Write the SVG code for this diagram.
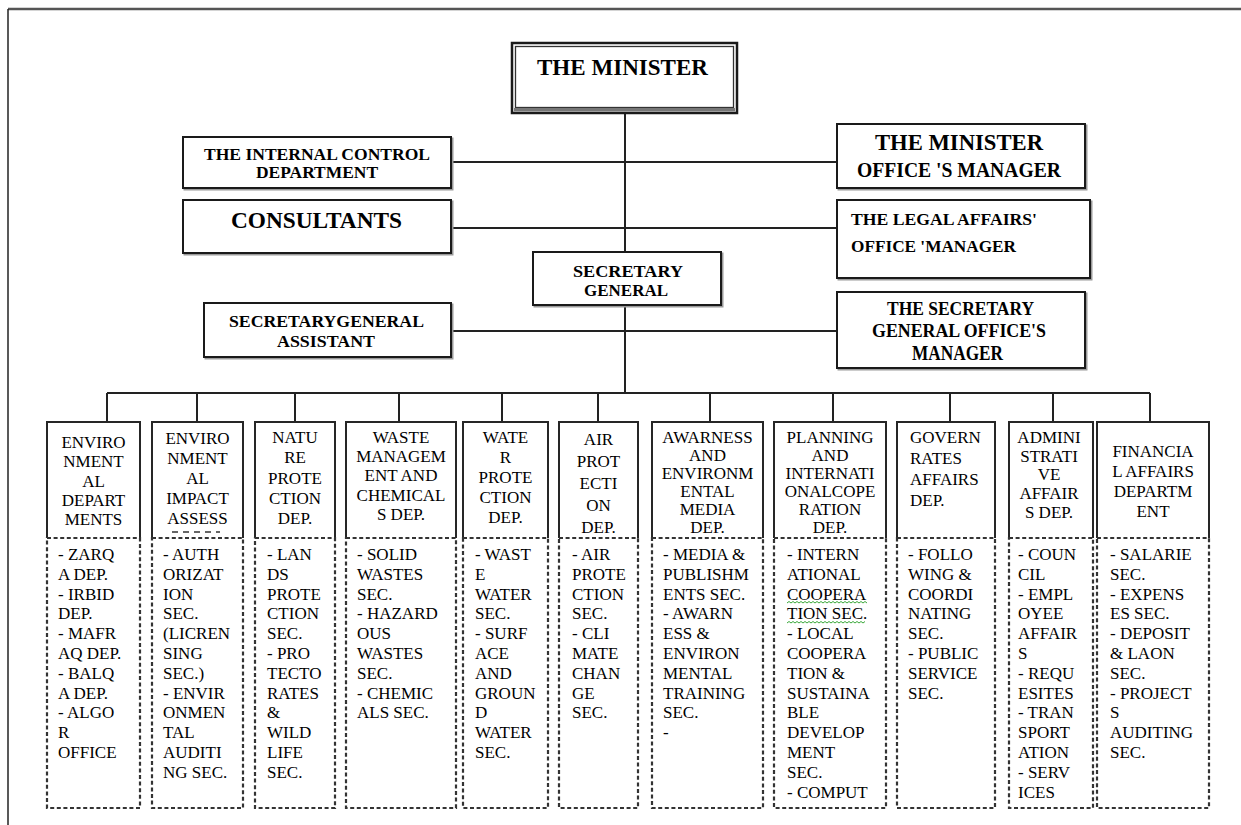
<svg xmlns="http://www.w3.org/2000/svg" width="1241" height="825" viewBox="0 0 1241 825">
<style>
.ln{stroke:#222;stroke-width:2;fill:none}
.box{fill:#fff;stroke:#1a1a1a;stroke-width:2}
.sh{fill:none;stroke:#9a9a9a;stroke-width:2}
.solid{fill:none;stroke:#262626;stroke-width:2}
.dash{fill:none;stroke:#333;stroke-width:2.2;stroke-dasharray:4 2.6}
.tb{font-family:"Liberation Serif","Times New Roman",serif;font-weight:bold;fill:#000}
.tc{font-family:"Liberation Serif","Times New Roman",serif;font-size:17px;fill:#000}
.hd{text-anchor:middle}
</style>
<rect x="0" y="0" width="1241" height="825" fill="#fff"/>
<g id="frame">
<line x1="8" y1="9" x2="1241" y2="9" stroke="#555" stroke-width="2.5"/>
<line x1="8" y1="9" x2="8" y2="825" stroke="#222" stroke-width="1.5"/>
</g>
<g id="connectors">
<line class="ln" x1="625" y1="113" x2="625" y2="393"/>
<line class="ln" x1="451" y1="162" x2="837" y2="162"/>
<line class="ln" x1="451" y1="228" x2="837" y2="228"/>
<line class="ln" x1="451" y1="331" x2="837" y2="331"/>
<line class="ln" x1="107" y1="393" x2="1150" y2="393"/>
<path class="ln" d="M107 393V422M197 393V422M295 393V422M399 393V422M502 393V422M598 393V422M710 393V422M833 393V422M950 393V422M1053 393V422M1150 393V422"/>
</g>
<g id="minister">
<rect x="512" y="43" width="225" height="70" fill="#fff" stroke="#1a1a1a" stroke-width="2.5"/>
<rect x="515.5" y="46.5" width="218" height="61" fill="none" stroke="#333" stroke-width="1.3"/>
<rect x="514" y="108" width="221" height="3.5" fill="#777"/>
<text class="tb" x="537" y="75" font-size="23" textLength="171" lengthAdjust="spacingAndGlyphs">THE MINISTER</text>
</g>
<g id="internal-control">
<rect class="sh" x="184.5" y="138.5" width="268" height="51"/>
<rect class="box" x="183" y="137" width="268" height="51"/>
<text class="tb" x="204" y="160" font-size="16" textLength="226" lengthAdjust="spacingAndGlyphs">THE INTERNAL CONTROL</text>
<text class="tb" x="256" y="178" font-size="16" textLength="122" lengthAdjust="spacingAndGlyphs">DEPARTMENT</text>
</g>
<g id="minister-office-manager">
<rect class="sh" x="838.5" y="125.5" width="248" height="64"/>
<rect class="box" x="837" y="124" width="248" height="64"/>
<text class="tb" x="875" y="150" font-size="22.5" textLength="168" lengthAdjust="spacingAndGlyphs">THE MINISTER</text>
<text class="tb" x="857" y="177" font-size="22" textLength="204" lengthAdjust="spacingAndGlyphs">OFFICE 'S MANAGER</text>
</g>
<g id="consultants">
<rect class="sh" x="184.5" y="201.5" width="268" height="53"/>
<rect class="box" x="183" y="200" width="268" height="53"/>
<text class="tb" x="231" y="228" font-size="23" textLength="171" lengthAdjust="spacingAndGlyphs">CONSULTANTS</text>
</g>
<g id="legal-affairs">
<rect class="sh" x="838.5" y="201.5" width="253" height="78"/>
<rect class="box" x="837" y="200" width="253" height="78"/>
<text class="tb" x="851" y="225" font-size="16" textLength="186" lengthAdjust="spacingAndGlyphs">THE LEGAL AFFAIRS'</text>
<text class="tb" x="851" y="252" font-size="16" textLength="165" lengthAdjust="spacingAndGlyphs">OFFICE 'MANAGER</text>
</g>
<g id="secretary-general">
<rect class="sh" x="534.5" y="253.5" width="188" height="53"/>
<rect class="box" x="533" y="252" width="188" height="53"/>
<text class="tb" x="573" y="277" font-size="16.5" textLength="110" lengthAdjust="spacingAndGlyphs">SECRETARY</text>
<text class="tb" x="584" y="296" font-size="16.5" textLength="84" lengthAdjust="spacingAndGlyphs">GENERAL</text>
</g>
<g id="sg-assistant">
<rect class="sh" x="205.5" y="304.5" width="247" height="54"/>
<rect class="box" x="204" y="303" width="247" height="54"/>
<text class="tb" x="229" y="327" font-size="17" textLength="195" lengthAdjust="spacingAndGlyphs">SECRETARYGENERAL</text>
<text class="tb" x="277" y="347" font-size="17" textLength="98" lengthAdjust="spacingAndGlyphs">ASSISTANT</text>
</g>
<g id="sg-office-manager">
<rect class="sh" x="838.5" y="293.5" width="248" height="76"/>
<rect class="box" x="837" y="292" width="248" height="76"/>
<text class="tb" x="887" y="315" font-size="19" textLength="147" lengthAdjust="spacingAndGlyphs">THE SECRETARY</text>
<text class="tb" x="872" y="337" font-size="19" textLength="174" lengthAdjust="spacingAndGlyphs">GENERAL OFFICE'S</text>
<text class="tb" x="912" y="360" font-size="20" textLength="91" lengthAdjust="spacingAndGlyphs">MANAGER</text>
</g>

<g id="col1">
<path class="solid" d="M47 538V422H140V538"/>
<rect class="dash" x="47" y="538" width="93" height="270"/>
<text class="tc hd" x="93.5" y="448">ENVIRO</text>
<text class="tc hd" x="93.5" y="467.3">NMENT</text>
<text class="tc hd" x="93.5" y="486.6">AL</text>
<text class="tc hd" x="93.5" y="505.9">DEPART</text>
<text class="tc hd" x="93.5" y="525.2">MENTS</text>
<text class="tc" x="58" y="560">- ZARQ</text>
<text class="tc" x="58" y="579.8">A DEP.</text>
<text class="tc" x="58" y="599.6">- IRBID</text>
<text class="tc" x="58" y="619.4">DEP.</text>
<text class="tc" x="58" y="639.2">- MAFR</text>
<text class="tc" x="58" y="659">AQ DEP.</text>
<text class="tc" x="58" y="678.8">- BALQ</text>
<text class="tc" x="58" y="698.6">A DEP.</text>
<text class="tc" x="58" y="718.4">- ALGO</text>
<text class="tc" x="58" y="738.2">R</text>
<text class="tc" x="58" y="758">OFFICE</text>
</g>
<g id="col2">
<path class="solid" d="M152 538V422H243V538"/>
<rect class="dash" x="152" y="538" width="91" height="270"/>
<line x1="172" y1="532" x2="220" y2="532" stroke="#333" stroke-width="1.5" stroke-dasharray="6 5"/>
<text class="tc hd" x="197.5" y="444">ENVIRO</text>
<text class="tc hd" x="197.5" y="464">NMENT</text>
<text class="tc hd" x="197.5" y="484">AL</text>
<text class="tc hd" x="197.5" y="504">IMPACT</text>
<text class="tc hd" x="197.5" y="524">ASSESS</text>
<text class="tc" x="163" y="560">- AUTH</text>
<text class="tc" x="163" y="579.8">ORIZAT</text>
<text class="tc" x="163" y="599.6">ION</text>
<text class="tc" x="163" y="619.4">SEC.</text>
<text class="tc" x="163" y="639.2">(LICREN</text>
<text class="tc" x="163" y="659">SING</text>
<text class="tc" x="163" y="678.8">SEC.)</text>
<text class="tc" x="163" y="698.6">- ENVIR</text>
<text class="tc" x="163" y="718.4">ONMEN</text>
<text class="tc" x="163" y="738.2">TAL</text>
<text class="tc" x="163" y="758">AUDITI</text>
<text class="tc" x="163" y="777.8">NG SEC.</text>
</g>
<g id="col3">
<path class="solid" d="M255 538V422H335V538"/>
<rect class="dash" x="255" y="538" width="80" height="270"/>
<text class="tc hd" x="295" y="443">NATU</text>
<text class="tc hd" x="295" y="463.3">RE</text>
<text class="tc hd" x="295" y="483.6">PROTE</text>
<text class="tc hd" x="295" y="503.9">CTION</text>
<text class="tc hd" x="295" y="524.2">DEP.</text>
<text class="tc" x="267" y="560">- LAN</text>
<text class="tc" x="267" y="579.8">DS</text>
<text class="tc" x="267" y="599.6">PROTE</text>
<text class="tc" x="267" y="619.4">CTION</text>
<text class="tc" x="267" y="639.2">SEC.</text>
<text class="tc" x="267" y="659">- PRO</text>
<text class="tc" x="267" y="678.8">TECTO</text>
<text class="tc" x="267" y="698.6">RATES</text>
<text class="tc" x="267" y="718.4">&amp;</text>
<text class="tc" x="267" y="738.2">WILD</text>
<text class="tc" x="267" y="758">LIFE</text>
<text class="tc" x="267" y="777.8">SEC.</text>
</g>
<g id="col4">
<path class="solid" d="M346 538V422H456V538"/>
<rect class="dash" x="346" y="538" width="110" height="270"/>
<text class="tc hd" x="401" y="443">WASTE</text>
<text class="tc hd" x="401" y="462.2">MANAGEM</text>
<text class="tc hd" x="401" y="481.4">ENT AND</text>
<text class="tc hd" x="401" y="500.6">CHEMICAL</text>
<text class="tc hd" x="401" y="519.8">S DEP.</text>
<text class="tc" x="357" y="560">- SOLID</text>
<text class="tc" x="357" y="579.8">WASTES</text>
<text class="tc" x="357" y="599.6">SEC.</text>
<text class="tc" x="357" y="619.4">- HAZARD</text>
<text class="tc" x="357" y="639.2">OUS</text>
<text class="tc" x="357" y="659">WASTES</text>
<text class="tc" x="357" y="678.8">SEC.</text>
<text class="tc" x="357" y="698.6">- CHEMIC</text>
<text class="tc" x="357" y="718.4">ALS SEC.</text>
</g>
<g id="col5">
<path class="solid" d="M463 538V422H548V538"/>
<rect class="dash" x="463" y="538" width="85" height="270"/>
<text class="tc hd" x="505.5" y="443">WATE</text>
<text class="tc hd" x="505.5" y="463">R</text>
<text class="tc hd" x="505.5" y="483">PROTE</text>
<text class="tc hd" x="505.5" y="503">CTION</text>
<text class="tc hd" x="505.5" y="523">DEP.</text>
<text class="tc" x="475" y="560">- WAST</text>
<text class="tc" x="475" y="579.8">E</text>
<text class="tc" x="475" y="599.6">WATER</text>
<text class="tc" x="475" y="619.4">SEC.</text>
<text class="tc" x="475" y="639.2">- SURF</text>
<text class="tc" x="475" y="659">ACE</text>
<text class="tc" x="475" y="678.8">AND</text>
<text class="tc" x="475" y="698.6">GROUN</text>
<text class="tc" x="475" y="718.4">D</text>
<text class="tc" x="475" y="738.2">WATER</text>
<text class="tc" x="475" y="758">SEC.</text>
</g>
<g id="col6">
<path class="solid" d="M559 538V422H638V538"/>
<rect class="dash" x="559" y="538" width="79" height="270"/>
<text class="tc hd" x="598.5" y="445">AIR</text>
<text class="tc hd" x="598.5" y="467">PROT</text>
<text class="tc hd" x="598.5" y="489">ECTI</text>
<text class="tc hd" x="598.5" y="511">ON</text>
<text class="tc hd" x="598.5" y="533">DEP.</text>
<text class="tc" x="572" y="560">- AIR</text>
<text class="tc" x="572" y="579.8">PROTE</text>
<text class="tc" x="572" y="599.6">CTION</text>
<text class="tc" x="572" y="619.4">SEC.</text>
<text class="tc" x="572" y="639.2">- CLI</text>
<text class="tc" x="572" y="659">MATE</text>
<text class="tc" x="572" y="678.8">CHAN</text>
<text class="tc" x="572" y="698.6">GE</text>
<text class="tc" x="572" y="718.4">SEC.</text>
</g>
<g id="col7">
<path class="solid" d="M652 538V422H763V538"/>
<rect class="dash" x="652" y="538" width="111" height="270"/>
<text class="tc hd" x="707.5" y="443">AWARNESS</text>
<text class="tc hd" x="707.5" y="461">AND</text>
<text class="tc hd" x="707.5" y="479">ENVIRONM</text>
<text class="tc hd" x="707.5" y="497">ENTAL</text>
<text class="tc hd" x="707.5" y="515">MEDIA</text>
<text class="tc hd" x="707.5" y="533">DEP.</text>
<text class="tc" x="663" y="560">- MEDIA &amp;</text>
<text class="tc" x="663" y="579.8">PUBLISHM</text>
<text class="tc" x="663" y="599.6">ENTS SEC.</text>
<text class="tc" x="663" y="619.4">- AWARN</text>
<text class="tc" x="663" y="639.2">ESS &amp;</text>
<text class="tc" x="663" y="659">ENVIRON</text>
<text class="tc" x="663" y="678.8">MENTAL</text>
<text class="tc" x="663" y="698.6">TRAINING</text>
<text class="tc" x="663" y="718.4">SEC.</text>
<text class="tc" x="663" y="738.2">-</text>
</g>
<g id="col8">
<path class="solid" d="M774 538V422H886V538"/>
<rect class="dash" x="774" y="538" width="112" height="270"/>
<text class="tc hd" x="830" y="443">PLANNING</text>
<text class="tc hd" x="830" y="461">AND</text>
<text class="tc hd" x="830" y="479">INTERNATI</text>
<text class="tc hd" x="830" y="497">ONALCOPE</text>
<text class="tc hd" x="830" y="515">RATION</text>
<text class="tc hd" x="830" y="533">DEP.</text>
<text class="tc" x="787" y="560">- INTERN</text>
<text class="tc" x="787" y="579.8">ATIONAL</text>
<text class="tc" x="787" y="599.6">COOPERA</text>
<text class="tc" x="787" y="619.4">TION SEC.</text>
<text class="tc" x="787" y="639.2">- LOCAL</text>
<text class="tc" x="787" y="659">COOPERA</text>
<text class="tc" x="787" y="678.8">TION &amp;</text>
<text class="tc" x="787" y="698.6">SUSTAINA</text>
<text class="tc" x="787" y="718.4">BLE</text>
<text class="tc" x="787" y="738.2">DEVELOP</text>
<text class="tc" x="787" y="758">MENT</text>
<text class="tc" x="787" y="777.8">SEC.</text>
<text class="tc" x="787" y="797.6">- COMPUT</text>
<path d="M787 603l2 -1.5l2 1.5l2 -1.5l2 1.5l2 -1.5l2 1.5l2 -1.5l2 1.5l2 -1.5l2 1.5l2 -1.5l2 1.5l2 -1.5l2 1.5l2 -1.5l2 1.5l2 -1.5l2 1.5l2 -1.5l2 1.5l2 -1.5l2 1.5l2 -1.5l2 1.5l2 -1.5l2 1.5l2 -1.5l2 1.5l2 -1.5l2 1.5l2 -1.5l2 1.5l2 -1.5l2 1.5l2 -1.5l2 1.5l2 -1.5l2 1.5l2 -1.5l2 1.5" fill="none" stroke="#3aa83a" stroke-width="1"/>
<path d="M787 623l2 -1.5l2 1.5l2 -1.5l2 1.5l2 -1.5l2 1.5l2 -1.5l2 1.5l2 -1.5l2 1.5l2 -1.5l2 1.5l2 -1.5l2 1.5l2 -1.5l2 1.5l2 -1.5l2 1.5l2 -1.5l2 1.5l2 -1.5l2 1.5l2 -1.5l2 1.5l2 -1.5l2 1.5l2 -1.5l2 1.5l2 -1.5l2 1.5l2 -1.5l2 1.5l2 -1.5l2 1.5l2 -1.5l2 1.5l2 -1.5l2 1.5l2 -1.5" fill="none" stroke="#3aa83a" stroke-width="1"/>
</g>
<g id="col9">
<path class="solid" d="M897 538V422H995V538"/>
<rect class="dash" x="897" y="538" width="98" height="270"/>
<text class="tc" x="910" y="443">GOVERN</text>
<text class="tc" x="910" y="464">RATES</text>
<text class="tc" x="910" y="485">AFFAIRS</text>
<text class="tc" x="910" y="506">DEP.</text>
<text class="tc" x="908" y="560">- FOLLO</text>
<text class="tc" x="908" y="579.8">WING &amp;</text>
<text class="tc" x="908" y="599.6">COORDI</text>
<text class="tc" x="908" y="619.4">NATING</text>
<text class="tc" x="908" y="639.2">SEC.</text>
<text class="tc" x="908" y="659">- PUBLIC</text>
<text class="tc" x="908" y="678.8">SERVICE</text>
<text class="tc" x="908" y="698.6">SEC.</text>
</g>
<g id="col10">
<path class="solid" d="M1009 538V422H1093V538"/>
<rect class="dash" x="1009" y="538" width="84" height="270"/>
<text class="tc hd" x="1049" y="443">ADMINI</text>
<text class="tc hd" x="1049" y="461.7">STRATI</text>
<text class="tc hd" x="1049" y="480.4">VE</text>
<text class="tc hd" x="1049" y="499.1">AFFAIR</text>
<text class="tc hd" x="1049" y="517.8">S DEP.</text>
<text class="tc" x="1018" y="560">- COUN</text>
<text class="tc" x="1018" y="579.8">CIL</text>
<text class="tc" x="1018" y="599.6">- EMPL</text>
<text class="tc" x="1018" y="619.4">OYEE</text>
<text class="tc" x="1018" y="639.2">AFFAIR</text>
<text class="tc" x="1018" y="659">S</text>
<text class="tc" x="1018" y="678.8">- REQU</text>
<text class="tc" x="1018" y="698.6">ESITES</text>
<text class="tc" x="1018" y="718.4">- TRAN</text>
<text class="tc" x="1018" y="738.2">SPORT</text>
<text class="tc" x="1018" y="758">ATION</text>
<text class="tc" x="1018" y="777.8">- SERV</text>
<text class="tc" x="1018" y="797.6">ICES</text>
</g>
<g id="col11">
<path class="solid" d="M1097 538V422H1209V538"/>
<rect class="dash" x="1097" y="538" width="112" height="270"/>
<text class="tc hd" x="1153" y="457">FINANCIA</text>
<text class="tc hd" x="1153" y="477">L AFFAIRS</text>
<text class="tc hd" x="1153" y="497">DEPARTM</text>
<text class="tc hd" x="1153" y="517">ENT</text>
<text class="tc" x="1110" y="560">- SALARIE</text>
<text class="tc" x="1110" y="579.8">SEC.</text>
<text class="tc" x="1110" y="599.6">- EXPENS</text>
<text class="tc" x="1110" y="619.4">ES SEC.</text>
<text class="tc" x="1110" y="639.2">- DEPOSIT</text>
<text class="tc" x="1110" y="659">&amp; LAON</text>
<text class="tc" x="1110" y="678.8">SEC.</text>
<text class="tc" x="1110" y="698.6">- PROJECT</text>
<text class="tc" x="1110" y="718.4">S</text>
<text class="tc" x="1110" y="738.2">AUDITING</text>
<text class="tc" x="1110" y="758">SEC.</text>
</g>
</svg>
